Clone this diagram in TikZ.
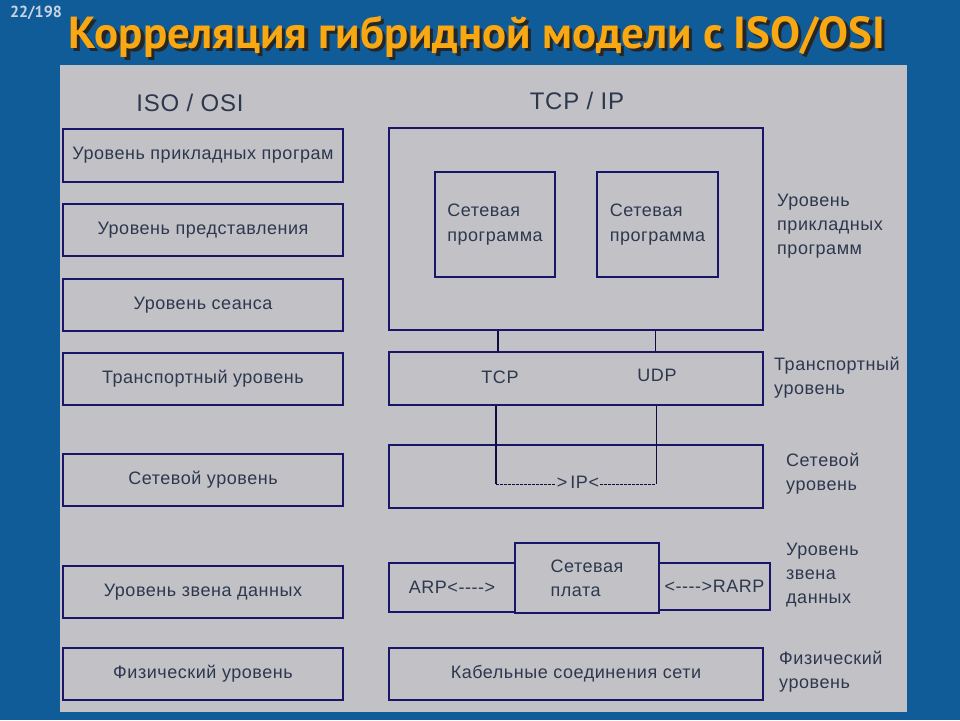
\documentclass[tikz,border=0pt]{standalone}
\usepackage{fontspec}
\setmainfont{Liberation Sans}[LetterSpace=3, Ligatures=TeXOff]
\newfontfamily\titlefont{PT Sans}
\definecolor{bgblue}{RGB}{16,92,152}
\definecolor{panel}{RGB}{194,194,198}
\definecolor{boxline}{RGB}{25,22,105}
\definecolor{txt}{RGB}{45,55,78}
\definecolor{titleor}{RGB}{250,168,18}
\definecolor{pagenum}{RGB}{200,212,228}
\newcommand\mytitletext{Корреляция гибридной модели с ISO/OSI}
\begin{document}
\begin{tikzpicture}[x=1pt,y=-1pt,
  lbl/.style={font=\fontsize{18}{24}\selectfont, text=txt, align=left},
  layer/.style={draw=boxline, line width=1.8pt, inner sep=0, lbl, align=center},
  side/.style={lbl, anchor=west, inner sep=0},
  head/.style={font=\fontsize{24}{26}\selectfont, text=txt},
  conn/.style={draw=boxline!60!black, line width=1.6pt},
  connthin/.style={draw=boxline!60!black, line width=1pt},
  dashline/.style={draw=boxline!60!black, line width=0.9pt, dash pattern=on 2.5pt off 1.5pt}
]
\useasboundingbox (0,0) rectangle (960,720);
\fill[bgblue] (0,0) rectangle (960,720);
\fill[panel] (60,65) rectangle (907,712);

% title (with shadow in the same node)
\node (title) [font=\titlefont\bfseries] at (477,38) {\resizebox{817pt}{!}{\rlap{\kern0.7pt\raisebox{-0.7pt}{\color{black!85}\mytitletext}}\color{titleor}\mytitletext}};
\node (pg) [text=pagenum, font=\titlefont\bfseries\fontsize{16}{17}\selectfont] at (36,13) {22/198};

% headings
\node (hiso) [head] at (190,103) {ISO / OSI};
\node (htcp) [head] at (577,101) {TCP / IP};

% ISO/OSI column
\node (l1) [layer, minimum width=280pt, minimum height=53pt] at (203,155.5) {Уровень прикладных програм};
\node (l2) [layer, minimum width=280pt, minimum height=52pt] at (203,230) {Уровень представления};
\node (l3) [layer, minimum width=280pt, minimum height=52pt] at (203,305) {Уровень сеанса};
\node (l4) [layer, minimum width=280pt, minimum height=52pt] at (203,379) {Транспортный уровень};
\node (l5) [layer, minimum width=280pt, minimum height=52pt] at (203,480) {Сетевой уровень};
\node (l6) [layer, minimum width=280pt, minimum height=52pt] at (203,592) {Уровень звена данных};
\node (l7) [layer, minimum width=280pt, minimum height=52pt] at (203,674) {Физический уровень};

% TCP/IP column
\node (app) [layer, minimum width=374pt, minimum height=202pt] at (576,229) {};
\node (p1) [layer, align=left, minimum width=120pt, minimum height=105pt, font=\fontsize{18}{25}\selectfont] at (495,224.5) {Сетевая\\программа};
\node (p2) [layer, align=left, minimum width=121pt, minimum height=105pt, font=\fontsize{18}{25}\selectfont] at (657.5,224.5) {Сетевая\\программа};

\node (tr) [layer, minimum width=374pt, minimum height=53pt] at (576,378.5) {};
\node (tcp) [lbl] at (500,377) {TCP};
\node (udp) [lbl] at (657,375) {UDP};

\node (net) [layer, minimum width=374pt, minimum height=63pt] at (576,476.5) {};
\node (ip) [lbl, inner sep=1pt] at (578,482.5) {>\,IP<};

\node (arp) [layer, line width=1.2pt, minimum width=126pt, minimum height=49pt] at (452,587.5) {ARP<---->};
\node (rarp) [layer, line width=1.2pt, minimum width=111pt, minimum height=47pt] at (714.5,586.5) {<---->RARP};
\node (nic) [layer, line width=2.2pt, minimum width=144pt, minimum height=70pt, align=left] at (587,578) {Сетевая\\плата};

\node (phy) [layer, minimum width=374pt, minimum height=52pt] at (576,674) {Кабельные соединения сети};

% connectors
\coordinate (xl) at (498,0);
\coordinate (xr) at (655,0);
\coordinate (xl2) at (496,0);
\coordinate (xr2) at (656,0);
\coordinate (yip) at (0,484);
\coordinate (ipl) at (xl2 |- yip);
\coordinate (ipr) at (xr2 |- yip);
\draw[conn] (app.south -| xl) -- (tr.north -| xl);
\draw[connthin] (app.south -| xr) -- (tr.north -| xr);
\draw[conn] (tr.south -| xl2) -- (ipl);
\draw[connthin] (tr.south -| xr2) -- (ipr);
\draw[dashline] (ipl) -- (ip.west |- ipl);
\draw[dashline] (ip.east |- ipr) -- (ipr);

% right side labels
\node (ra) [side] at (777,226) {Уровень\\прикладных\\программ};
\node (rt) [side] at (774,377.5) {Транспортный\\уровень};
\node (rn) [side] at (786,473.5) {Сетевой\\уровень};
\node (rd) [side] at (786,575.5) {Уровень\\звена\\данных};
\node (rp) [side] at (779,672) {Физический\\уровень};
\end{tikzpicture}
\end{document}
